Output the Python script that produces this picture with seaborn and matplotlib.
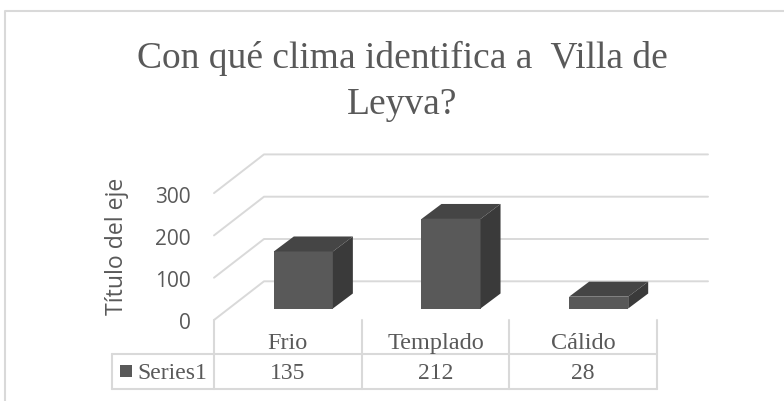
import matplotlib
matplotlib.use('Agg')
import matplotlib.pyplot as plt
from matplotlib.patches import Polygon, Rectangle
import seaborn as sns

categories = ['Frio', 'Templado', 'Cálido']
values = [135, 212, 28]
yticks = [0, 100, 200, 300]
series_name = 'Series1'
title_lines = ['Con qué clima identifica a  Villa de', 'Leyva?']
ylabel = 'Título del eje'

W, H = 784, 402
grid = '#d9d9d9'
textc = '#595959'
serif = 'Liberation Serif'
sans = 'Open Sans'

sns.set_theme(style='white')

fig = plt.figure(figsize=(W / 100, H / 100), dpi=100, facecolor='white')

# background axes in pixels, holds the frame, the walls and the table
bg = fig.add_axes([0, 0, 1, 1])
bg.set_xlim(0, W)
bg.set_ylim(H, 0)
bg.axis('off')

# front plane of the bars, 0-300 covers 309.5..182.8 px
ax = fig.add_axes([229.5 / W, (H - 309.5) / H, 443 / W, 126.7 / H])
ax.patch.set_alpha(0)
sns.barplot(x=categories, y=values, color='#595959', saturation=1, width=0.4,
            linewidth=0, ax=ax)
ax.set_xlim(-0.5, 2.5)
ax.set_ylim(0, 300)
ax.axis('off')

# depth of the 3d look
dx = 20 / (443 / 3)
dy = 15 / (126.7 / 300)
for bar in list(ax.patches):
    x0 = bar.get_x()
    x1 = x0 + bar.get_width()
    h = bar.get_height()
    ax.add_patch(Polygon([(x0, h), (x1, h), (x1 + dx, h + dy), (x0 + dx, h + dy)],
                         facecolor='#454545', lw=0, clip_on=False))
    ax.add_patch(Polygon([(x1, 0), (x1 + dx, dy), (x1 + dx, h + dy), (x1, h)],
                         facecolor='#3a3a3a', lw=0, clip_on=False))

# walls
per_unit = 42.3 / 100
for v in yticks:
    y_front = 321 - v * per_unit
    y_back = 282.3 - v * per_unit
    bg.plot([214, 264, 708], [y_front, y_back, y_back], color=grid, lw=1.4)
    bg.text(191, y_front + 3, str(v), ha='right', va='center', color=textc,
            fontsize=15, family=sans)

bg.text(117, 246, ylabel, rotation=90, ha='center', va='center', color=textc,
        fontsize=16.6, family=sans)

# data table under the chart
col_x = [214 + 147.7 * i for i in range(len(categories) + 1)]
for x in col_x:
    bg.plot([x, x], [321, 390], color=grid, lw=1.5)
bg.plot([112, 112], [355, 390], color=grid, lw=1.5)
for y in [355, 390]:
    bg.plot([112, col_x[-1]], [y, y], color=grid, lw=1.5)
for i, cat in enumerate(categories):
    xc = (col_x[i] + col_x[i + 1]) / 2
    bg.text(xc, 344, cat, ha='center', va='center', color=textc, fontsize=17.5, family=serif)
    bg.text(xc, 374, str(values[i]), ha='center', va='center', color=textc,
            fontsize=17, family=serif)
bg.add_patch(Rectangle((120, 366), 12, 12, color='#595959', lw=0))
bg.text(137, 374, series_name, ha='left', va='center', color=textc, fontsize=17, family=serif)

# outer frame
bg.plot([5.5, 5.5, 784], [H, 12, 12], color=grid, lw=1.5)

bg.text(402, 58, title_lines[0], ha='center', va='center', color=textc, fontsize=27, family=serif)
bg.text(402, 105, title_lines[1], ha='center', va='center', color=textc, fontsize=27, family=serif)

fig.savefig('out.png', dpi=100)
